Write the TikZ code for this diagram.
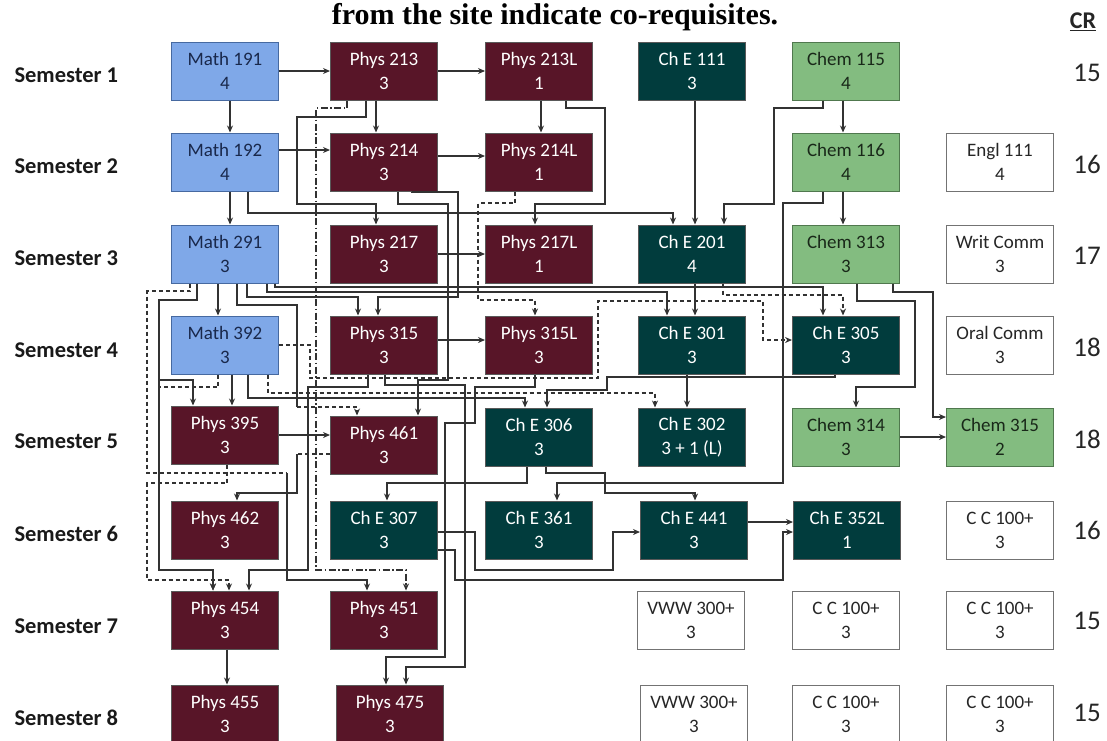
\documentclass[tikz,border=0pt]{standalone}
\usepackage{fontspec}
\setmainfont{Carlito}
\newfontfamily\titlefont{Liberation Serif}
\usepackage{xcolor}
\usepackage{tikz}
\usetikzlibrary{arrows.meta}

\definecolor{mathblue}{RGB}{127,168,232}
\definecolor{mathedge}{RGB}{70,105,160}
\definecolor{mathtext}{RGB}{25,40,75}
\definecolor{physred}{RGB}{88,21,40}
\definecolor{cheteal}{RGB}{1,60,61}
\definecolor{chemgreen}{RGB}{131,188,128}
\definecolor{chemedge}{RGB}{80,120,78}
\definecolor{chemtext}{RGB}{25,40,25}
\definecolor{linegray}{RGB}{50,50,50}

\begin{document}
\begin{tikzpicture}[x=1pt, y=-1pt,
  every node/.style={font=\fontsize{19}{24}\selectfont},
  box/.style={draw=black!65, line width=1pt, minimum width=107pt,
              minimum height=58pt, inner sep=0pt, align=center},
  mathbox/.style={box, fill=mathblue, draw=mathedge, text=mathtext},
  physbox/.style={box, fill=physred, text=white},
  chebox/.style={box, fill=cheteal, text=white},
  chembox/.style={box, fill=chemgreen, draw=chemedge, text=chemtext},
  plainbox/.style={box, fill=white, draw=black!55, text=black!85},
  sem/.style={anchor=west, font=\bfseries\fontsize{22.5}{26}\selectfont, text=black!90},
  crnum/.style={font=\fontsize{27}{30}\selectfont, text=black!85},
  arr/.style={-{Stealth[length=7pt,width=6pt]}, line width=1.1pt, draw=linegray},
  coreq/.style={arr, dash pattern=on 4pt off 3pt},
  codash/.style={arr, dash pattern=on 7pt off 2.5pt on 1.5pt off 2.5pt},
  seg/.style={line width=1.1pt, draw=linegray},
]
  \useasboundingbox (0,0) rectangle (1107,740);

  \node[font=\titlefont\bfseries\fontsize{30}{33}\selectfont, anchor=base]
       (title) at (555,24) {from the site indicate co-requisites.};
  \node[font=\bfseries\fontsize{24}{26}\selectfont, text=black!85] (cr) at (1083,22) {\underline{CR}};

  \node[sem] (s1) at (11,75) {Semester 1};
  \node[sem] (s2) at (11,166) {Semester 2};
  \node[sem] (s3) at (11,258) {Semester 3};
  \node[sem] (s4) at (11,350) {Semester 4};
  \node[sem] (s5) at (11,441) {Semester 5};
  \node[sem] (s6) at (11,534) {Semester 6};
  \node[sem] (s7) at (11,626) {Semester 7};
  \node[sem] (s8) at (11,718) {Semester 8};

  % semester 1
  \node[mathbox] (m191) at (225,71) {Math 191\\4};
  \node[physbox] (p213) at (384,71) {Phys 213\\3};
  \node[physbox] (p213l) at (539,71) {Phys 213L\\1};
  \node[chebox] (ce111) at (692,71) {Ch E 111\\3};
  \node[chembox] (ch115) at (846,71) {Chem 115\\4};
  \node[crnum] (cr1) at (1087,73) {15};

  % semester 2
  \node[mathbox] (m192) at (225,162) {Math 192\\4};
  \node[physbox] (p214) at (384,162) {Phys 214\\3};
  \node[physbox] (p214l) at (539,162) {Phys 214L\\1};
  \node[chembox] (ch116) at (846,162) {Chem 116\\4};
  \node[plainbox] (en111) at (1000,162) {Engl 111\\4};
  \node[crnum] (cr2) at (1087,164) {16};

  % semester 3
  \node[mathbox] (m291) at (225,254) {Math 291\\3};
  \node[physbox] (p217) at (384,254) {Phys 217\\3};
  \node[physbox] (p217l) at (539,254) {Phys 217L\\1};
  \node[chebox] (ce201) at (692,254) {Ch E 201\\4};
  \node[chembox] (ch313) at (846,254) {Chem 313\\3};
  \node[plainbox] (writ) at (1000,254) {Writ Comm\\3};
  \node[crnum] (cr3) at (1087,256) {17};

  % semester 4
  \node[mathbox] (m392) at (225,345) {Math 392\\3};
  \node[physbox] (p315) at (384,345) {Phys 315\\3};
  \node[physbox] (p315l) at (539,345) {Phys 315L\\3};
  \node[chebox] (ce301) at (692,345) {Ch E 301\\3};
  \node[chebox] (ce305) at (846,345) {Ch E 305\\3};
  \node[plainbox] (oral) at (1000,345) {Oral Comm\\3};
  \node[crnum] (cr4) at (1087,347) {18};

  % semester 5
  \node[physbox] (p395) at (225,435) {Phys 395\\3};
  \node[physbox] (p461) at (384,445) {Phys 461\\3};
  \node[chebox] (ce306) at (539,437) {Ch E 306\\3};
  \node[chebox] (ce302) at (692,437) {Ch E 302\\3 + 1 (L)};
  \node[chembox] (ch314) at (846,437) {Chem 314\\3};
  \node[chembox] (ch315) at (1000,437) {Chem 315\\2};
  \node[crnum] (cr5) at (1087,439) {18};

  % semester 6
  \node[physbox] (p462) at (225,530) {Phys 462\\3};
  \node[chebox] (ce307) at (384,530) {Ch E 307\\3};
  \node[chebox] (ce361) at (539,530) {Ch E 361\\3};
  \node[chebox] (ce441) at (694,530) {Ch E 441\\3};
  \node[chebox] (ce352l) at (847,530) {Ch E 352L\\1};
  \node[plainbox] (cc1) at (1000,530) {C C 100+\\3};
  \node[crnum] (cr6) at (1087,530) {16};

  % semester 7
  \node[physbox] (p454) at (225,620) {Phys 454\\3};
  \node[physbox] (p451) at (384,620) {Phys 451\\3};
  \node[plainbox] (vww1) at (691,620) {VWW 300+\\3};
  \node[plainbox] (cc2) at (846,620) {C C 100+\\3};
  \node[plainbox] (cc3) at (1000,620) {C C 100+\\3};
  \node[crnum] (cr7) at (1087,621) {15};

  % semester 8
  \node[physbox] (p455) at (225,714) {Phys 455\\3};
  \node[physbox] (p475) at (390,714) {Phys 475\\3};
  \node[plainbox] (vww2) at (694,714) {VWW 300+\\3};
  \node[plainbox] (cc4) at (846,714) {C C 100+\\3};
  \node[plainbox] (cc5) at (1000,714) {C C 100+\\3};
  \node[crnum] (cr8) at (1087,713) {15};

  % from semester 1
  \draw[arr] (m191) -- (p213);
  \draw[arr] (p213) -- (p213l);
  \draw[arr] ([xshift=5]m191.south) -- ([xshift=5]m192.north);
  \draw[arr] ([xshift=-8]p213.south) -- ([xshift=-8]p214.north);
  \draw[arr] ([xshift=2]p213l.south) -- ([xshift=2]p214l.north);
  \draw[arr] ([xshift=3]ce111.south) -- ([xshift=3]ce201.north);
  \draw[arr] ([xshift=-3]ch115.south) -- ([xshift=-3]ch116.north);
  \draw[arr] ([xshift=-23]ch115.south) -- (823,108) -- (774,108) -- (774,204) -- (724,204) -- ([xshift=32]ce201.north);
  \draw[arr] ([xshift=27]p213l.south) -- (566,108) -- (605,108) -- (605,204) -- (535,204) -- ([xshift=-4]p217l.north);
  \draw[arr] ([xshift=-18]p213.south) -- (366,117) -- (297,117) -- (297,204) -- (376,204) -- ([xshift=-8]p217.north);
  \draw[codash] ([xshift=-37]p213.south) -- (347,108) -- (316,108) -- (316,570) -- (406,570) -- ([xshift=22]p451.north);

  % from semester 2
  \draw[arr] ([yshift=12]m192.east) -- ([yshift=12]p214.west);
  \draw[arr] ([yshift=6]p214.east) -- ([yshift=6]p214l.west);
  \draw[arr] ([xshift=5]m192.south) -- ([xshift=5]m291.north);
  \draw[arr] ([xshift=23]m192.south) -- (248,213) -- (673,213) -- ([xshift=-19]ce201.north);
  \draw[arr] ([xshift=14]p214.south) -- (398,204) -- (448,204) -- (448,380) -- (418,380) -- ([xshift=34]p461.north);
  \draw[arr] ([xshift=28]p214.south) -- (412,192) -- (458,192) -- (458,297) -- (378,297) -- ([xshift=-6]p315.north);
  \draw[coreq] ([xshift=-24]p214l.south) -- (515,203) -- (478,203) -- (478,300) -- (535,300) -- ([xshift=-4]p315l.north);
  \draw[arr] ([xshift=-3]ch116.south) -- ([xshift=-3]ch313.north);
  \draw[arr] ([xshift=-23]ch116.south) -- (823,203) -- (783,203) -- (783,483) -- (557,483) -- ([xshift=18]ce361.north);

  % from semester 3
  \draw[arr] (p217) -- (p217l);
  \draw[arr] ([xshift=3]ce201.south) -- ([xshift=3]ce301.north);
  \draw[coreq] ([xshift=31]ce201.south) -- (723,295) -- (843,295) -- ([xshift=-3]ce305.north);
  \draw[arr] ([xshift=-7]m291.south) -- ([xshift=-7]m392.north);
  \draw[seg, dash pattern=on 4pt off 3pt] ([xshift=-35]m291.south) -- (190,291) -- (147,291) -- (147,473) -- (287,473) coordinate (j2);
  \draw[arr] (j2) -- (287,580) -- (367,580) -- ([xshift=-17]p451.north);
  \draw[arr] ([xshift=-28]m291.south) -- (197,300) -- (159,300) -- (159,570) -- (213,570) -- ([xshift=-12]p454.north);
  \draw[arr] ([xshift=-28]m291.south) -- (197,300) -- (159,300) -- (159,380) -- (193,380) -- ([xshift=-32]p395.north);
  \draw[seg] ([xshift=12]m291.south) -- (237,305) -- (297,305) -- (297,407) coordinate (j3);
  \draw[coreq] (j3) -- (357,407) -- ([xshift=-27]p461.north);
  \draw[arr] ([xshift=22]m291.south) -- (247,297) -- (358,297) -- ([xshift=-26]p315.north);
  \draw[arr] ([xshift=42]m291.south) -- (267,292) -- (667,292) -- ([xshift=-25]ce301.north);
  \draw[arr] ([xshift=50]m291.south) -- (275,287) -- (823,287) -- ([xshift=-23]ce305.north);
  \draw[arr] ([xshift=11]ch313.south) -- (857,301) -- (915,301) -- (915,387) -- (856,387) -- ([xshift=10]ch314.north);
  \draw[arr] ([xshift=47]ch313.south) -- (893,292) -- (933,292) -- (933,417) -- ([yshift=20]ch315.west);

  % from semester 4
  \draw[arr] ([yshift=5]p315.east) -- ([yshift=5]p315l.west);
  \draw[arr] ([xshift=-5]ce301.south) -- ([xshift=-5]ce302.north);
  \draw[coreq] (m392.east) -- (310,345) -- (310,378) -- (598,378) -- (598,301) -- (763,301) -- (763,340) -- ([yshift=5]ce305.west);
  \draw[arr] ([xshift=-11]ce305.south) -- (835,377) -- (607,377) -- (607,390) -- (547,390) -- ([xshift=8]ce306.north);
  \draw[arr] ([xshift=23]m392.south) -- (248,398) -- (525,398) -- ([xshift=-14]ce306.north);
  \draw[coreq] ([xshift=43]m392.south) -- (268,393) -- (655,393) -- ([xshift=-37]ce302.north);
  \draw[arr] ([xshift=7]m392.south) -- ([xshift=7]p395.north);
  \draw[coreq] ([xshift=-7]m392.south) -- (218,387) -- (159,387) -- (159,570) -- (213,570) -- ([xshift=-12]p454.north);
  \draw[arr] ([xshift=-16]p315.south) -- (368,387) -- (308,387) -- (308,570) -- (249,570) -- ([xshift=24]p454.north);
  \draw[arr] ([xshift=1]p315.south) -- (385,385) -- (465,385) -- (465,667) -- (406,667) -- ([xshift=16]p475.north);
  \draw[arr] ([xshift=-4]p315l.south) -- (535,387) -- (475,387) -- (475,423) -- (445,423) -- (445,657) -- (386,657) -- ([xshift=-4]p475.north);

  % from semester 5
  \draw[arr] (p395.east) -- ([yshift=10]p461.west);
  \draw[seg, dash pattern=on 4pt off 3pt] ([yshift=-9]p461.west) -- (297,454) coordinate (j4);
  \draw[arr] (j4) -- (297,493) -- (237,493) -- ([xshift=12]p462.north);
  \draw[coreq] ([xshift=2]p395.south) -- (227,483) -- (147,483) -- (147,580) -- (229,580) -- ([xshift=4]p454.north);
  \draw[arr] ([xshift=-12]ce306.south) -- (527,483) -- (387,483) -- ([xshift=3]ce307.north);
  \draw[arr] ([xshift=7]ce306.south) -- (546,473) -- (605,473) -- (605,493) -- (695,493) -- ([xshift=1]ce441.north);
  \draw[arr] (ch314) -- (ch315);

  % from semester 6 and 7
  \draw[arr] ([yshift=-2]ce307.east) -- (475,532) -- (475,570) -- (613,570) -- (613,532) -- ([yshift=-2]ce441.west);
  \draw[arr] ([yshift=-20]ce307.east) -- (455,550) -- (455,580) -- (783,580) -- (783,532) -- ([yshift=-2]ce352l.west);
  \draw[arr] ([yshift=8]ce441.east) -- ([yshift=8]ce352l.west);
  \draw[arr] ([xshift=2]p454.south) -- ([xshift=2]p455.north);
\end{tikzpicture}
\end{document}
